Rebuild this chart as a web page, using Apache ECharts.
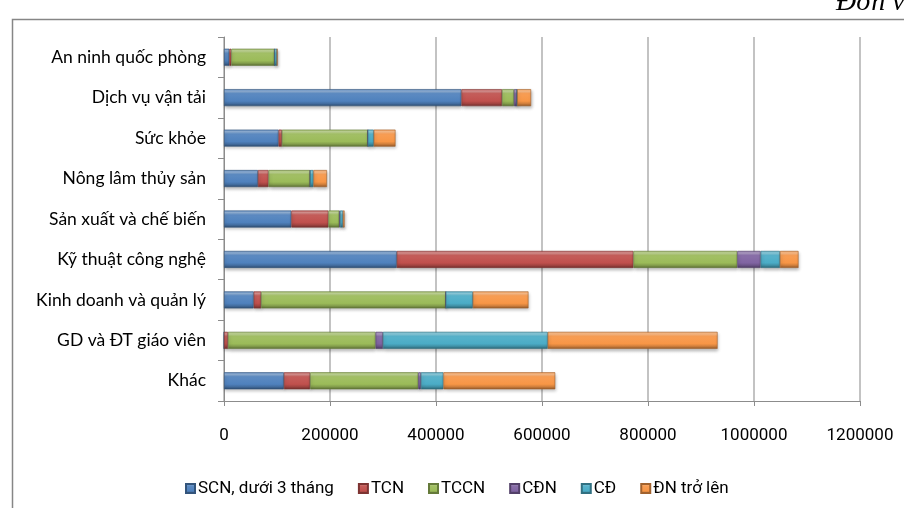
<!DOCTYPE html>
<html>
<head>
<meta charset="utf-8">
<script src="https://cdn.jsdelivr.net/npm/echarts@6/dist/echarts.min.js"></script>
<style>
  html, body { margin: 0; padding: 0; background: #fff; }
  #chart { width: 904px; height: 508px; }
</style>
</head>
<body>
<div id="chart"></div>
<script>
// Ngành đào tạo (top to bottom)
const categories = [
  'An ninh quốc phòng',
  'Dịch vụ vận tải',
  'Sức khỏe',
  'Nông lâm thủy sản',
  'Sản xuất và chế biến',
  'Kỹ thuật công nghệ',
  'Kinh doanh và quản lý',
  'GD và ĐT giáo viên',
  'Khác'
];

const seriesNames = ['SCN, dưới 3 tháng', 'TCN', 'TCCN', 'CĐN', 'CĐ', 'ĐN trở lên'];

// Số lượng theo trình độ, cùng thứ tự với categories
const scn   = [10000, 448000, 103000, 64000, 127000, 326000, 56000,      0, 113000];
const tcn   = [ 3800,  76500,   6300, 20000,  70000, 446500, 14000,   7500,  49500];
const tccn  = [81500,  22600, 162000, 78500,  20500, 196000, 348500, 278500, 204000];
const cdn   = [    0,   6000,      0,     0,   1500,  44000,      0,  13800,   5000];
const cd    = [ 5000,      0,  11300,  6300,   5500,  36500,  51000, 311000,  42500];
const dnTro = [    0,  26300,  41000, 25500,   3000,  35000, 105000, 320500, 211000];

const xTicks = { min: 0, max: 1200000, interval: 200000 };

const palette = ['#4F81BD', '#C0504D', '#9BBB59', '#8064A2', '#4BACC6', '#F79646'];
const values = [scn, tcn, tccn, cdn, cd, dnTro];

function shade(hex, f) {
  const n = parseInt(hex.slice(1), 16);
  let r = (n >> 16) & 255, g = (n >> 8) & 255, b = n & 255;
  const adj = c => f >= 0 ? Math.round(c + (255 - c) * f) : Math.round(c * (1 + f));
  return 'rgb(' + adj(r) + ',' + adj(g) + ',' + adj(b) + ')';
}

// Bevel-style vertical gradient for each bar segment
function bevel(hex) {
  return new echarts.graphic.LinearGradient(0, 0, 0, 1, [
    { offset: 0.00, color: shade(hex, 0.10) },
    { offset: 0.12, color: shade(hex, 0.38) },
    { offset: 0.26, color: shade(hex, 0.08) },
    { offset: 0.70, color: hex },
    { offset: 0.84, color: shade(hex, -0.15) },
    { offset: 1.00, color: shade(hex, -0.42) }
  ]);
}

const series = seriesNames.map((name, i) => ({
  name: name,
  type: 'bar',
  stack: 'total',
  barWidth: 17,
  data: values[i],
  itemStyle: {
    color: bevel(palette[i]),
    borderColor: shade(palette[i], -0.35),
    borderWidth: 0.6,
    shadowColor: 'rgba(0,0,0,0.25)',
    shadowBlur: 3,
    shadowOffsetX: 1,
    shadowOffsetY: 2
  },
  emphasis: { disabled: true }
}));

const chart = echarts.init(document.getElementById('chart'), null, { renderer: 'canvas' });

chart.setOption({
  animation: false,
  backgroundColor: '#fff',
  color: palette,
  grid: { left: 224, right: 44, top: 37, bottom: 107, containLabel: false },
  xAxis: {
    type: 'value',
    min: xTicks.min,
    max: xTicks.max,
    interval: xTicks.interval,
    axisLine: { show: true, lineStyle: { color: '#8C8C8C', width: 1 } },
    axisTick: { show: true, length: 5, lineStyle: { color: '#8C8C8C' } },
    splitLine: { show: true, lineStyle: { color: '#B4B4B4', width: 1.6 } },
    axisLabel: {
      color: '#000',
      fontFamily: '"Liberation Sans Narrow", "Arial Narrow", Roboto, sans-serif',
      fontSize: 17,
      margin: 26,
      formatter: v => String(v)
    }
  },
  yAxis: {
    type: 'category',
    data: categories,
    inverse: true,
    axisLine: { show: true, lineStyle: { color: '#8C8C8C', width: 1 } },
    axisTick: { show: true, length: 6, lineStyle: { color: '#8C8C8C' } },
    axisLabel: {
      color: '#000',
      fontFamily: 'Lato, "Open Sans", sans-serif',
      fontSize: 17.5,
      margin: 18
    }
  },
  legend: {
    data: seriesNames,
    left: 180,
    top: 475,
    icon: 'rect',
    itemWidth: 9,
    itemHeight: 9,
    itemGap: 24,
    textStyle: {
      color: '#000',
      fontFamily: '"Liberation Sans Narrow", "Arial Narrow", Roboto, sans-serif',
      fontSize: 17,
      padding: [0, 0, 0, -2]
    }
  },
  graphic: [
    {
      type: 'rect',
      left: 10, top: 17,
      shape: { width: 1000, height: 600 },
      style: { fill: 'none', stroke: '#868686', lineWidth: 1.5 },
      silent: true
    },
    {
      type: 'text',
      left: 836, top: -11,
      style: {
        text: 'Đơn vị: người',
        fill: '#000',
        font: 'italic 28px "Liberation Serif", "DejaVu Serif", serif'
      },
      silent: true
    }
  ],
  series: series
});
</script>
</body>
</html>
